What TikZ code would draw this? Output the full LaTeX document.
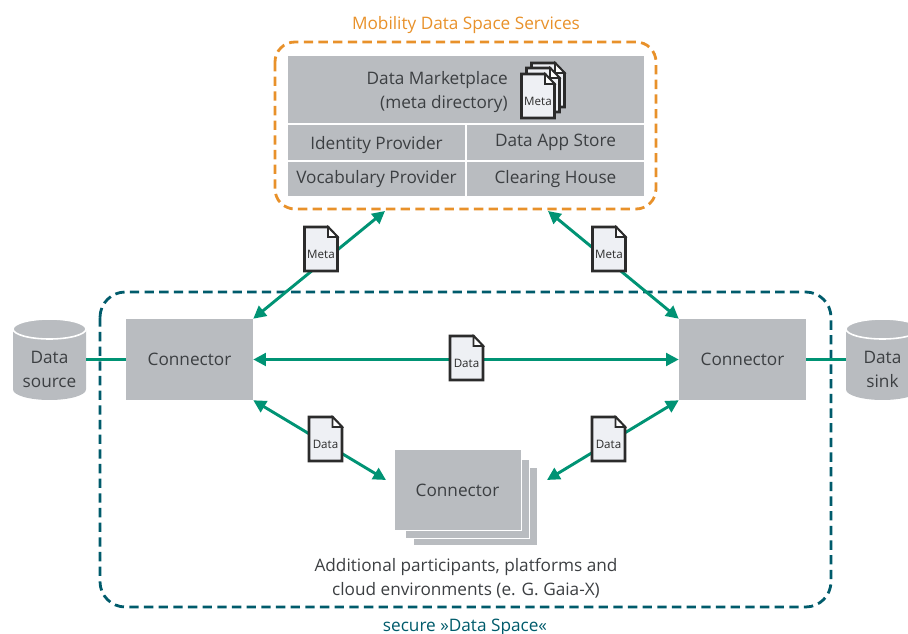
\documentclass[tikz,border=0pt]{standalone}
\usepackage{fontspec}
\setmainfont{Open Sans}
\usetikzlibrary{arrows.meta}

\newcommand{\docicon}[4]{%
	\begin{scope}[shift={(#2,#3)}]
		\draw[doc line] (-16.5,-22) -- (7,-22) -- (16.5,-12) -- (16.5,22) -- (-16.5,22) -- cycle;
		\draw[doc fold] (7,-22) -- (7,-12) -- (16.5,-12) -- cycle;
		\node[doc label] (#1) at (0,5) {#4};
	\end{scope}}

\newcommand{\drum}[2]{%
	\begin{scope}[shift={(#1,#2)}]
		\fill[gray box] (-36.5,-29) -- (-36.5,30) arc[start angle=180,end angle=0,x radius=36.5,y radius=10.5] -- (36.5,-29) -- cycle;
		\draw[gray box,draw=white,line width=1.2pt] (0,-30.5) ellipse[x radius=36.5,y radius=10];
	\end{scope}}

\begin{document}
\begin{tikzpicture}
			[x=.75pt,y=-.75pt,
			%Styles
			gray box/.style={fill=boxcolor},
			label text/.style={text=textcolor,font=\fontsize{12.9}{18}\selectfont,align=center,inner sep=0pt},
			box node/.style={gray box,label text,minimum width=95.25pt,minimum height=60.75pt},
			service cell/.style={gray box,label text,minimum width=#1,minimum height=25.9pt},
			drum node/.style={label text,minimum width=54.75pt,minimum height=60.75pt},
			link/.style={linkcolor,line width=2.2pt},
			both link/.style={link,{Triangle[length=9.5pt,width=9.5pt]}-{Triangle[length=9.5pt,width=9.5pt]}},
			doc line/.style={draw=doccolor,fill=docfill,line width=1.9pt,line join=miter},
			doc fold/.style={draw=doccolor,fill=white,line width=1.2pt},
			doc label/.style={text=doccolor,font=\fontsize{8.7}{10}\selectfont,inner sep=0pt},
			zone/.style={line width=2.1pt,rounded corners=15pt,dash pattern=on 7pt off 4pt}
			]
			
			%Colors
			\definecolor{boxcolor}{HTML}{B9BCC0}
			\definecolor{textcolor}{HTML}{3C3F42}
			\definecolor{linkcolor}{HTML}{009374}
			\definecolor{doccolor}{HTML}{2B2B2B}
			\definecolor{docfill}{HTML}{EEF0F4}
			\definecolor{servicecolor}{HTML}{E8912A}
			\definecolor{spacecolor}{HTML}{005B6B}
			
			\clip (0,0) rectangle (908,634);
			
			%The zones
			\draw[zone,draw=servicecolor] (275,42) rectangle (656,209);
			\draw[zone,draw=spacecolor,rounded corners=19pt] (100,292) rectangle (831,607);
			\node[label text,text=servicecolor] (servicesTitle) at (466,25.5) {Mobility Data Space Services};
			\node[label text,text=spacecolor] (spaceTitle) at (465,627) {secure »Data Space«};
			
			%The services
			\fill[gray box] (288,56) rectangle (643.5,123);
			\node[label text,align=right,anchor=east] (market) at (508,92) {Data Marketplace\\(meta directory)};
			\node[service cell=132.75pt,text depth=0pt] (identity) at (376.5,142.5) {Identity Provider};
			\node[service cell=132.75pt] (appStore) at (555.5,142.5) {Data App Store};
			\node[service cell=132.75pt] (vocabulary) at (376.5,179) {Vocabulary Provider};
			\node[service cell=132.75pt] (clearing) at (555.5,179) {Clearing House};
			
			%The drums and connectors
			\drum{49.5}{359.5}
			\drum{882.5}{359.5}
			\node[drum node] (source) at (49.5,369) {Data\\source};
			\node[drum node] (sink) at (882.5,369) {Data\\sink};
			\node[box node] (connLeft) at (189.5,359.5) {Connector};
			\node[box node] (connRight) at (742.5,359.5) {Connector};
			\fill[gray box,draw=white,line width=.75pt] (413,468) rectangle (537.5,546);
			\fill[gray box,draw=white,line width=.75pt] (405,460) rectangle (529.5,538.5);
			\node[box node,draw=white,line width=.75pt] (connMiddle) at (457.5,490.5) {Connector};
			\node[label text] (participants) at (466,578) {Additional participants, platforms and\\cloud environments (e. G. Gaia-X)};
			
			%The free ends
			\coordinate (servicesLeft) at (385,211);
			\coordinate (servicesRight) at (548,211);
			\coordinate (middleLeft) at (386,480);
			\coordinate (middleRight) at (547,480);
			
			%The links
			\draw[link] (source.east |- connLeft.west) -- (connLeft.west);
			\draw[link] (connRight.east) -- (sink.west |- connRight.east);
			\draw[both link] (connLeft.north east) -- (servicesLeft);
			\draw[both link] (connRight.north west) -- (servicesRight);
			\draw[both link] (connLeft.east) -- (connRight.west);
			\draw[both link] (connLeft.south east) -- (middleLeft);
			\draw[both link] (connRight.south west) -- (middleRight);
			
			%The documents
			\docicon{metaLeft}{321}{249}{Meta}
			\docicon{metaRight}{609}{249}{Meta}
			\docicon{dataMiddle}{466.5}{358}{Data}
			\docicon{dataLeft}{325.5}{439}{Data}
			\docicon{dataRight}{608.5}{439}{Data}
			\docicon{stackBack}{548}{85}{}
			\docicon{stackMiddle}{543}{90}{}
			\docicon{metaStack}{538}{96}{Meta}
		\end{tikzpicture}
\end{document}
